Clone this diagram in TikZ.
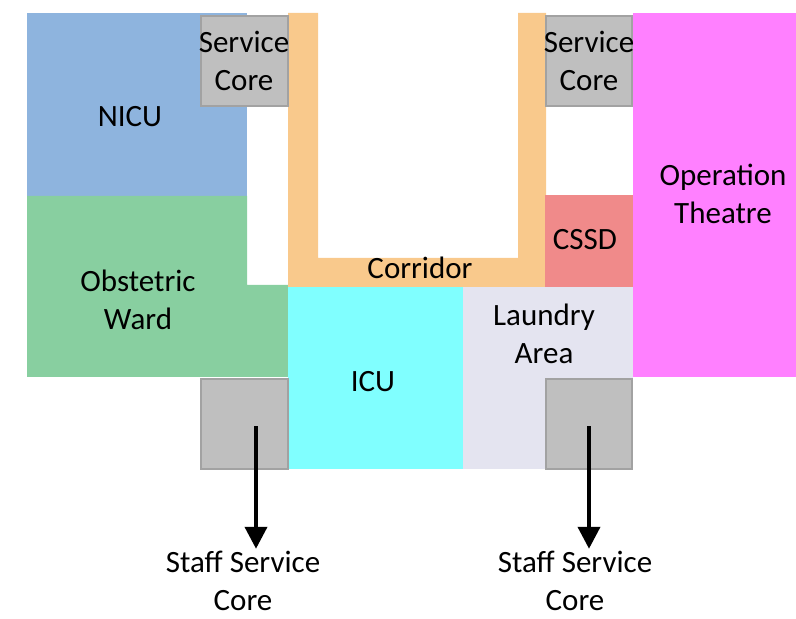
\documentclass[tikz,border=0pt]{standalone}
\usepackage{fontspec}
\setmainfont{Carlito}
\usepackage{tikz}
\usetikzlibrary{arrows.meta}

\definecolor{nicublue}{HTML}{8EB4DE}
\definecolor{wardgreen}{HTML}{88CFA0}
\definecolor{corridororange}{HTML}{F9C98C}
\definecolor{coregray}{HTML}{BFBFBF}
\definecolor{coreedge}{HTML}{A2A2A2}
\definecolor{cssdred}{HTML}{F08A8A}
\definecolor{otmagenta}{HTML}{FF80FF}
\definecolor{icucyan}{HTML}{80FFFF}
\definecolor{laundrylav}{HTML}{E4E4F0}

\tikzset{
  core/.style={fill=coregray, draw=coreedge, line width=1.2pt},
  label/.style={font=\fontsize{15.5}{19}\selectfont, align=center, inner sep=1pt},
  exitarrow/.style={-{Triangle[width=11pt,length=11pt]}, line width=2pt}
}

\begin{document}
\begin{tikzpicture}[x=0.5pt,y=-0.5pt]
    \useasboundingbox (0,0) rectangle (796,619);
    % rooms
    \fill[nicublue] (27,13) rectangle (247,196);
    \fill[wardgreen] (27,196) -- (247,196) -- (247,285) -- (288,285) -- (288,377) -- (27,377) -- cycle;
    \fill[corridororange] (288,13) -- (318,13) -- (318,258) -- (518,258) -- (518,13) -- (546,13) -- (546,287) -- (288,287) -- cycle;
    \fill[cssdred] (545,195) rectangle (633,287);
    \fill[otmagenta] (633,13) rectangle (796,377);
    \fill[icucyan] (288,287) rectangle (463,469);
    \fill[laundrylav] (463,287) rectangle (633,469);
    % service cores
    \draw[core] (201,16) rectangle (288,106);
    \draw[core] (546,16) rectangle (632,106);
    \draw[core] (201,379) rectangle (288,469);
    \draw[core] (546,379) rectangle (632,469);
    % labels
    \node[label] (nicu) at (130,117) {NICU};
    \node[label] (scleft) at (244,61) {Service\\Core};
    \node[label] (scright) at (589,61) {Service\\Core};
    \node[label] (ward) at (138,300) {Obstetric\\Ward};
    \node[label] (corridor) at (420,268) {Corridor};
    \node[label] (cssd) at (585,240) {CSSD};
    \node[label] (ot) at (723,194) {Operation\\Theatre};
    \node[label] (icu) at (373,382) {ICU};
    \node[label] (laundry) at (544,334) {Laundry\\Area};
    \node[label] (sscleft) at (243,581) {Staff Service\\Core};
    \node[label] (sscright) at (575,581) {Staff Service\\Core};
    % exits
    \coordinate (exitleft) at (256,426);
    \coordinate (exitright) at (589,426);
    \draw[exitarrow] (exitleft) -- (exitleft |- sscleft.north);
    \draw[exitarrow] (exitright) -- (exitright |- sscright.north);
\end{tikzpicture}
\end{document}
